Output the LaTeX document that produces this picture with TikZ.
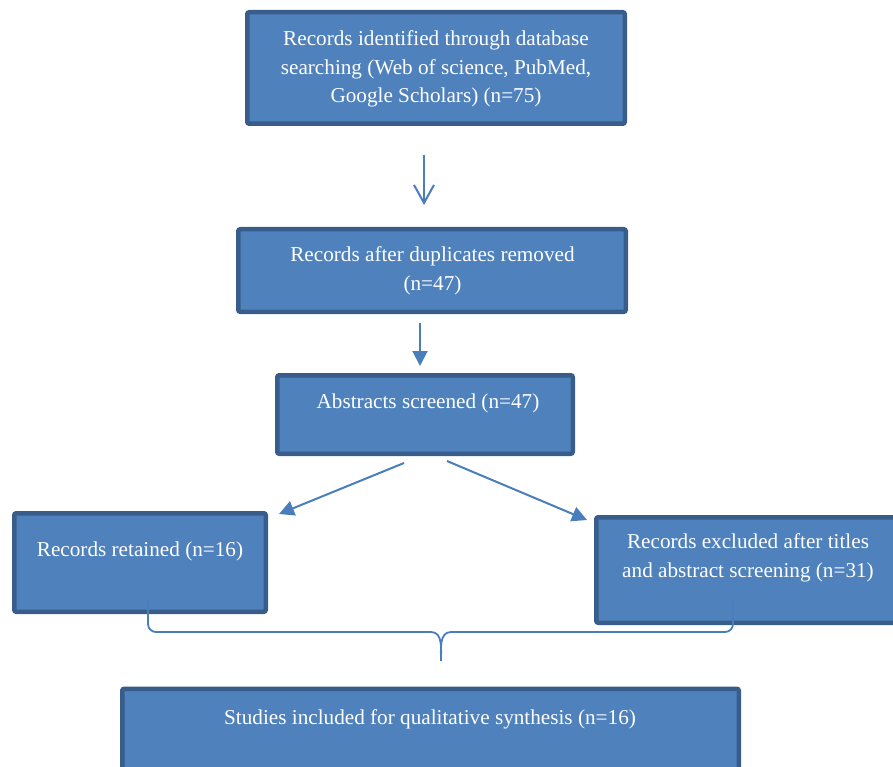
\documentclass[tikz,border=0pt]{standalone}
\usepackage{fontspec}
\setmainfont{Liberation Serif}
\usetikzlibrary{arrows.meta}
\definecolor{boxfill}{RGB}{79,129,189}
\definecolor{boxedge}{RGB}{56,93,138}
\definecolor{linkcol}{RGB}{74,126,187}
\newcommand\flowfont{\fontsize{21.2}{28.5}\selectfont}
\tikzset{
  flowbox/.style={draw=boxedge, fill=boxfill, line width=4.5pt, rounded corners=2pt,
    inner sep=0pt, rectangle},
  flowtext/.style={text=white, font=\flowfont, align=center, inner sep=0pt},
  link/.style={draw=linkcol, line width=2pt},
  openhead/.style={link, -{Straight Barb[length=18pt,width=20pt]}},
  solidhead/.style={link, -{Triangle[length=15pt,width=15pt]}}
}
\begin{document}
\begin{tikzpicture}[x=1pt,y=-1pt]
\useasboundingbox (0,0) rectangle (893,767);

% boxes
\node[flowbox, minimum width=377.5pt, minimum height=111.5pt] (ident) at (436,68) {};
\node[flowbox, minimum width=387.5pt, minimum height=82.5pt] (dedup) at (432,270.5) {};
\node[flowbox, minimum width=295.5pt, minimum height=78.5pt] (screen) at (425,414.5) {};
\node[flowbox, minimum width=251.5pt, minimum height=98.5pt] (retain) at (140,562.5) {};
\node[flowbox, minimum width=299.5pt, minimum height=105.5pt] (exclude) at (746,570) {};
\node[flowbox, minimum width=616.5pt, minimum height=106.5pt] (incl) at (430.5,742) {};

% texts
\node[flowtext] (tident) at (436,69) {Records identified through database\\searching (Web of science, PubMed,\\Google Scholars) (n=75)};
\node[flowtext] (tdedup) at (432.5,271) {Records after duplicates removed\\(n=47)};
\node[flowtext] (tscreen) at (428,403) {Abstracts screened (n=47)};
\node[flowtext] (tretain) at (140,551) {Records retained (n=16)};
\node[flowtext] (texclude) at (748,558) {Records excluded after titles\\and abstract screening (n=31)};
\node[flowtext] (tincl) at (430,719) {Studies included for qualitative synthesis (n=16)};

% arrow end points
\coordinate (a1s) at (424,155);
\coordinate (a1e) at (424,205);
\coordinate (a2s) at (420,323);
\coordinate (a2e) at (420,366);
\coordinate (a3s) at (404,463);
\coordinate (a3e) at (279,514);
\coordinate (a4s) at (447,461);
\coordinate (a4e) at (587,520);

\draw[openhead] (a1s) -- (a1e);
\draw[solidhead] (a2s) -- (a2e);
\draw[solidhead] (a3s) -- (a3e);
\draw[solidhead] (a4s) -- (a4e);

% brace joining the two outcomes
\coordinate (bl) at (148,600);
\coordinate (br) at (733,600);
\coordinate (btip) at (441,661);
\draw[link, line width=1.8pt]
  (bl) -- (148,624) to[out=-90,in=180] (156,632) -- (431,632)
  to[out=0,in=90] (btip)
  to[out=90,in=180] (451,632) -- (725,632) to[out=0,in=-90] (733,624) -- (br);
\end{tikzpicture}
\end{document}
